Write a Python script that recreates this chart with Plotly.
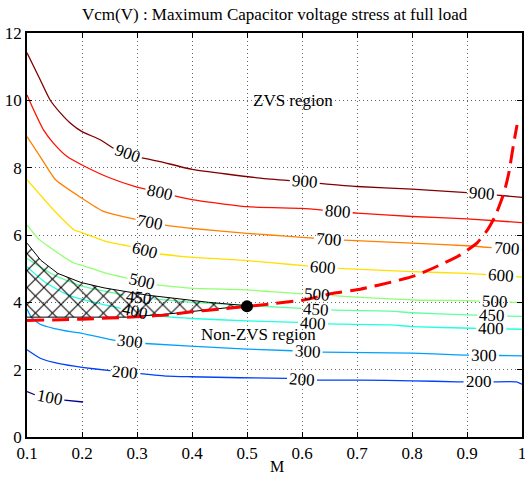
import numpy as np
import plotly.graph_objects as go

# ---------------- data ----------------
levels = [100, 200, 300, 400, 450, 500, 600, 700, 800, 900]

c100_m = [0.1, 0.115, 0.164, 0.202]
c100_v = [1.35, 1.25, 1.10, 1.04]
c100_lbl = [0.141]

c200_m = [0.1, 0.124, 0.161, 0.2, 0.251, 0.303, 0.355, 0.397, 0.488, 0.573, 0.621, 0.706, 0.8, 0.882, 0.99, 1.0]
c200_v = [2.59, 2.34, 2.17, 2.07, 1.97, 1.89, 1.81, 1.79, 1.76, 1.74, 1.69, 1.69, 1.67, 1.64, 1.64, 1.57]
c200_lbl = [0.279, 0.6, 0.921]

c300_m = [0.1, 0.108, 0.124, 0.15, 0.179, 0.2, 0.257, 0.312, 0.397, 0.5, 0.585, 0.633, 0.8, 0.882, 1.0]
c300_v = [3.8, 3.55, 3.35, 3.22, 3.13, 3.08, 2.88, 2.78, 2.70, 2.61, 2.56, 2.52, 2.49, 2.44, 2.41]
c300_lbl = [0.288, 0.61, 0.931]

c400_m = [0.1, 0.131, 0.174, 0.216, 0.271, 0.325, 0.4, 0.5, 0.6, 0.65, 0.76, 0.8, 0.91, 1.0]
c400_v = [5.06, 4.62, 4.22, 4.02, 3.82, 3.62, 3.52, 3.45, 3.40, 3.36, 3.33, 3.28, 3.23, 3.20]
c400_lbl = [0.297, 0.62, 0.944]

c450_m = [0.1, 0.15, 0.2, 0.25, 0.28, 0.33, 0.4, 0.5, 0.6, 0.66, 0.76, 0.8, 0.9, 1.0]
c450_v = [5.3, 4.8, 4.48, 4.3, 4.2, 4.1, 4.0, 3.91, 3.82, 3.77, 3.74, 3.69, 3.63, 3.58]
c450_lbl = [0.303, 0.626, 0.946]

c500_m = [0.1, 0.12, 0.14, 0.186, 0.2, 0.245, 0.282, 0.333, 0.397, 0.5, 0.542, 0.6, 0.651, 0.8, 0.9, 1.0]
c500_v = [6.3, 5.9, 5.65, 5.16, 5.1, 4.86, 4.72, 4.52, 4.42, 4.37, 4.32, 4.25, 4.20, 4.07, 4.05, 3.99]
c500_lbl = [0.309, 0.628, 0.95]

c600_m = [0.1, 0.148, 0.186, 0.2, 0.245, 0.288, 0.339, 0.397, 0.5, 0.542, 0.609, 0.66, 0.8, 0.9, 1.0]
c600_v = [7.64, 6.75, 6.15, 6.07, 5.80, 5.66, 5.44, 5.34, 5.24, 5.18, 5.08, 5.01, 4.91, 4.86, 4.75]
c600_lbl = [0.315, 0.638, 0.962]

c700_m = [0.1, 0.124, 0.152, 0.2, 0.239, 0.3, 0.348, 0.397, 0.5, 0.542, 0.6, 0.67, 0.8, 0.9, 1.0]
c700_v = [8.92, 8.33, 7.64, 7.09, 6.70, 6.45, 6.30, 6.20, 6.05, 6.0, 5.93, 5.85, 5.76, 5.68, 5.56]
c700_lbl = [0.324, 0.649, 0.972]

c800_m = [0.1, 0.112, 0.13, 0.148, 0.173, 0.2, 0.25, 0.3, 0.361, 0.4, 0.5, 0.6, 0.7, 0.8, 0.9, 1.0]
c800_v = [10.16, 9.72, 9.12, 8.73, 8.33, 8.08, 7.7, 7.42, 7.19, 7.05, 6.84, 6.79, 6.65, 6.55, 6.48, 6.37]
c800_lbl = [0.342, 0.665]

c900_m = [0.1, 0.124, 0.142, 0.161, 0.179, 0.2, 0.233, 0.257, 0.306, 0.342, 0.4, 0.524, 0.7, 0.8, 0.9, 1.0]
c900_v = [11.41, 10.61, 10.01, 9.62, 9.32, 9.07, 8.83, 8.58, 8.30, 8.18, 7.95, 7.69, 7.44, 7.36, 7.26, 7.12]
c900_lbl = [0.283, 0.605, 0.927]

zvs_m = [0.1, 0.2, 0.3, 0.35, 0.4, 0.45, 0.5, 0.542, 0.603, 0.657, 0.706, 0.767, 0.809, 0.851,
         0.888, 0.918, 0.936, 0.951, 0.967, 0.976, 0.985, 0.991]
zvs_v = [3.46, 3.5, 3.57, 3.62, 3.72, 3.8, 3.88, 3.95, 4.07, 4.27, 4.39, 4.62, 4.81, 5.11,
         5.41, 5.76, 6.12, 6.55, 7.24, 7.84, 8.73, 9.27]

hatch_top_m = [0.1, 0.125, 0.156, 0.198, 0.24, 0.277, 0.32, 0.368, 0.43, 0.5]
hatch_top_v = [5.76, 5.25, 4.86, 4.59, 4.43, 4.32, 4.21, 4.12, 4.0, 3.9]
hatch_bot_m = [0.1, 0.28, 0.36, 0.43, 0.5]
hatch_bot_v = [3.56, 3.56, 3.66, 3.78, 3.9]

point_m = [0.5]
point_v = [3.88]

x_ticks = [0.1, 0.2, 0.3, 0.4, 0.5, 0.6, 0.7, 0.8, 0.9, 1.0]
x_tick_text = ["0.1", "0.2", "0.3", "0.4", "0.5", "0.6", "0.7", "0.8", "0.9", "1"]
y_ticks = [0, 2, 4, 6, 8, 10, 12]

title_text = "Vcm(V) : Maximum Capacitor voltage stress at full load"
xlabel_text = "M"
zvs_text = "ZVS region"
nonzvs_text = "Non-ZVS region"

contours = [
    (100, c100_m, c100_v, c100_lbl),
    (200, c200_m, c200_v, c200_lbl),
    (300, c300_m, c300_v, c300_lbl),
    (400, c400_m, c400_v, c400_lbl),
    (450, c450_m, c450_v, c450_lbl),
    (500, c500_m, c500_v, c500_lbl),
    (600, c600_m, c600_v, c600_lbl),
    (700, c700_m, c700_v, c700_lbl),
    (800, c800_m, c800_v, c800_lbl),
    (900, c900_m, c900_v, c900_lbl),
]

# ---------------- style ----------------
colors = {100: "#00008F", 200: "#0040FF", 300: "#00A0FF", 400: "#20FFDF", 450: "#60FF9F",
          500: "#90FF70", 600: "#FFE000", 700: "#FF8000", 800: "#FF1000", 900: "#800000"}
FONT = "Times New Roman, Liberation Serif, DejaVu Serif, serif"
W, H = 525, 477
ML, MR, MT, MB = 27, 3, 33, 40
XR = (0.1, 1.0)
YR = (0.0, 12.0)
px_per_x = (W - ML - MR) / (XR[1] - XR[0])
px_per_y = (H - MT - MB) / (YR[1] - YR[0])
LABEL_HALF_PX = 15


def label_geom(xs, ys, xl):
    y = float(np.interp(xl, xs, ys))
    d = 0.01
    slope = (np.interp(xl + d, xs, ys) - np.interp(xl - d, xs, ys)) / (2 * d)
    ang = np.arctan(slope * px_per_y / px_per_x)
    half = LABEL_HALF_PX * np.cos(ang) / px_per_x
    return y, -np.degrees(ang), (xl - half, xl + half)


def split_line(xs, ys, gaps):
    xs = np.asarray(xs, float)
    ys = np.asarray(ys, float)
    edges = [e for g in gaps for e in g if xs[0] <= e <= xs[-1]]
    allx = np.unique(np.concatenate([xs, edges]))
    ally = np.interp(allx, xs, ys)
    ox, oy = [], []
    prev_drawn = False
    for i in range(len(allx) - 1):
        mid = 0.5 * (allx[i] + allx[i + 1])
        ingap = any(a < mid < b for a, b in gaps)
        if ingap:
            if prev_drawn:
                ox.append(None)
                oy.append(None)
            prev_drawn = False
            continue
        if not prev_drawn:
            ox.append(allx[i])
            oy.append(ally[i])
        ox.append(allx[i + 1])
        oy.append(ally[i + 1])
        prev_drawn = True
    return ox, oy


fig = go.Figure()
annotations = []

for lev, xs, ys, lbls in contours:
    gaps = []
    for xl in lbls:
        yl, ang, gap = label_geom(xs, ys, xl)
        gaps.append(gap)
        annotations.append(dict(x=xl, y=yl, xref="x", yref="y", text=str(lev), showarrow=False,
                                textangle=ang, font=dict(family=FONT, size=17, color="black"),
                                xanchor="center", yanchor="middle"))
    lx, ly = split_line(xs, ys, gaps)
    fig.add_trace(go.Scatter(x=lx, y=ly, mode="lines",
                             line=dict(color=colors[lev], width=1.3, shape="spline", smoothing=0.5),
                             hoverinfo="skip", showlegend=False))

# hatched region
hx = list(hatch_top_m) + list(hatch_bot_m[::-1])
hy = list(hatch_top_v) + list(hatch_bot_v[::-1])
fig.add_trace(go.Scatter(x=hx, y=hy, mode="lines", fill="toself",
                         fillcolor="rgba(0,0,0,0)",
                         fillpattern=dict(shape="x", size=12, solidity=0.16, fgcolor="black",
                                          fgopacity=1, bgcolor="rgba(0,0,0,0)"),
                         line=dict(color="black", width=1), hoverinfo="skip", showlegend=False))

# ZVS boundary
fig.add_trace(go.Scatter(x=zvs_m, y=zvs_v, mode="lines",
                         line=dict(color="#FF0000", width=3, dash="17px,8px",
                                   shape="spline", smoothing=0.5),
                         hoverinfo="skip", showlegend=False))

fig.add_trace(go.Scatter(x=point_m, y=point_v, mode="markers",
                         marker=dict(color="black", size=12), hoverinfo="skip", showlegend=False))

annotations += [
    dict(x=0.583, y=10.0, xref="x", yref="y", text=zvs_text, showarrow=False,
         font=dict(family=FONT, size=17, color="black")),
    dict(x=0.52, y=3.03, xref="x", yref="y", text=nonzvs_text, showarrow=False,
         font=dict(family=FONT, size=17, color="black")),
    dict(x=0.5, y=(H - MB - 15) / (H - MT - MB), xref="paper", yref="paper", text=title_text,
         showarrow=False, xanchor="center", yanchor="middle",
         font=dict(family=FONT, size=17, color="black")),
    dict(x=0.505, y=(H - MB - 466) / (H - MT - MB), xref="paper", yref="paper", text=xlabel_text,
         showarrow=False, xanchor="center", yanchor="middle", borderpad=0,
         font=dict(family=FONT, size=16, color="black")),
]

axis_common = dict(showline=True, linecolor="black", linewidth=1.5, mirror="ticks",
                   ticks="inside", ticklen=5, tickcolor="black", tickwidth=1,
                   showgrid=True, gridcolor="rgba(0,0,0,0.6)", gridwidth=1, griddash="1px,3px",
                   zeroline=False, automargin=False, ticklabeloverflow="allow",
                   tickfont=dict(family=FONT, size=17, color="black"))

fig.update_layout(
    width=W, height=H,
    margin=dict(l=ML, r=MR, t=MT, b=MB, autoexpand=False),
    paper_bgcolor="white", plot_bgcolor="white",
    xaxis=dict(range=list(XR), tickvals=x_ticks, ticktext=x_tick_text, **axis_common),
    yaxis=dict(range=list(YR), tickvals=y_ticks, **axis_common),
    annotations=annotations,
    showlegend=False,
)

post = ("document.documentElement.style.margin='0';document.body.style.margin='0';"
        "document.body.style.padding='0';document.body.style.overflow='hidden';"
        "var gd=document.getElementById('{plot_id}');"
        "Plotly.relayout(gd,{width:%d,height:%d});" % (W, H))

fig.write_html("out.html", config={"responsive": False, "displayModeBar": False}, post_script=post)
